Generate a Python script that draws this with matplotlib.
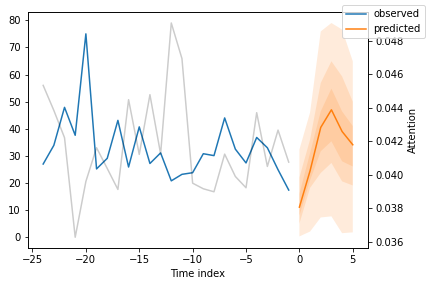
import numpy as np
import matplotlib
matplotlib.use("Agg")
import matplotlib.pyplot as plt

# observed target over encoder window
x_obs = list(range(-24, 0))
observed = [27.0, 33.9, 47.9, 37.6, 75.0, 25.2, 29.1, 43.1, 25.9, 40.7, 27.2, 31.1,
            20.8, 23.2, 23.8, 30.8, 30.1, 44.0, 32.5, 27.4, 36.8, 33.0, 24.9, 17.4]

# attention weights (right axis)
attention = [0.04534, 0.04384, 0.04221, 0.036257, 0.039593, 0.041611, 0.040371, 0.039114,
             0.044485, 0.041210, 0.044784, 0.041240, 0.049072, 0.046940, 0.039491, 0.039156,
             0.038976, 0.041228, 0.039892, 0.039216, 0.043707, 0.040491, 0.042665, 0.040749]

# prediction horizon
x_pred = [0, 1, 2, 3, 4, 5]
predicted = [11.1, 24.5, 40.5, 47.0, 39.0, 34.1]
q02 = [0.3, 2.1, 7.3, 7.7, 1.5, 1.8]
q10 = [5.0, 18.2, 23.7, 27.4, 20.6, 19.1]
q25 = [8.0, 21.0, 31.7, 35.4, 28.0, 26.1]
q75 = [16.0, 31.0, 46.4, 54.8, 46.4, 41.0]
q90 = [22.0, 36.0, 56.9, 64.9, 59.3, 50.0]
q98 = [32.3, 46.0, 75.9, 79.0, 76.6, 64.9]

obs_color = "#1f77b4"
pred_color = "#ff7f0e"

fig = plt.figure(figsize=(430 / 72, 286 / 72), dpi=72)
ax = fig.add_axes([0.0644, 0.133, 0.792, 0.824])

ax.plot(x_obs, observed, label="observed", color=obs_color)
ax.plot(x_pred, predicted, label="predicted", color=pred_color)
for lo, hi in [(q02, q98), (q10, q90), (q25, q75)]:
    ax.fill_between(x_pred, lo, hi, alpha=0.15, fc=pred_color)

ax.set_xlim(-25.45, 6.45)
ax.set_ylim(-3.95, 82.95)
ax.set_xlabel("Time index")

ax2 = ax.twinx()
ax2.plot(x_obs, attention, alpha=0.2, color="k")
ax2.set_ylim(0.035616, 0.04971)
ax2.set_ylabel("Attention")

fig.legend(loc="upper right")

fig.savefig("out.png", dpi=72)
